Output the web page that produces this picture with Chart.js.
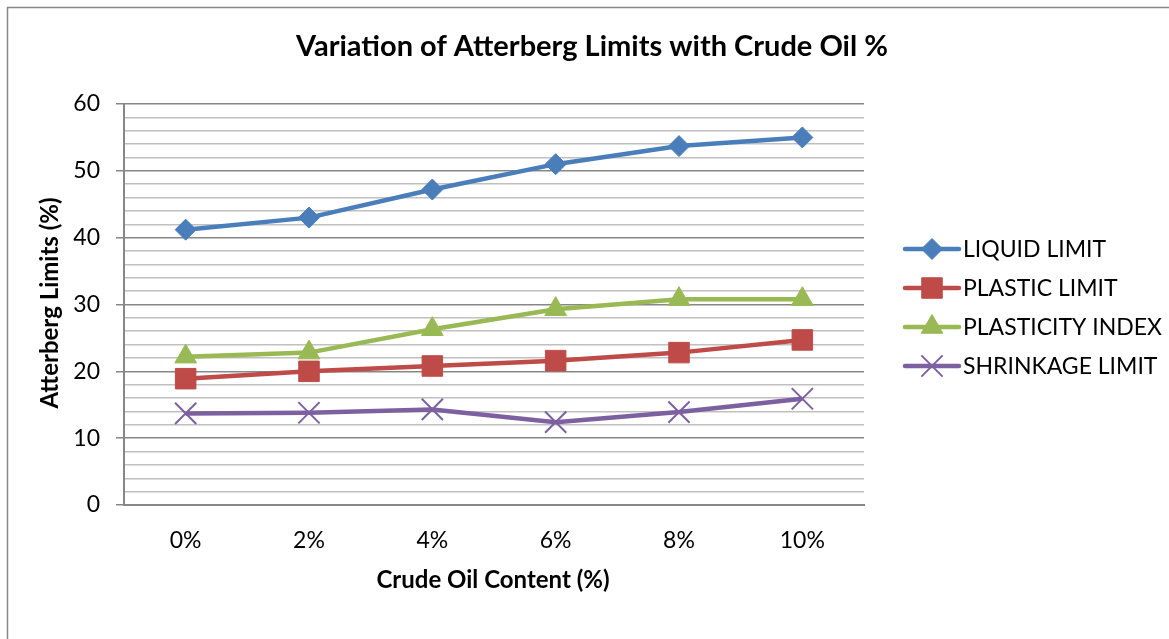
<!DOCTYPE html>
<html>
<head>
<meta charset="utf-8">
<title>Variation of Atterberg Limits with Crude Oil %</title>
<script src="https://cdn.jsdelivr.net/npm/chart.js@4/dist/chart.umd.min.js"></script>
<style>
  html, body { margin: 0; padding: 0; background: #ffffff; }
  #wrap { width: 1169px; height: 639px; position: relative; }
</style>
</head>
<body>
<div id="wrap"><canvas id="chart" width="1169" height="639"></canvas></div>
<script>
// Crude oil content categories
const categories = ['0%', '2%', '4%', '6%', '8%', '10%'];

// Atterberg limits (%) for each crude oil content
const liquidLimit      = [41.2, 43.0, 47.2, 51.0, 53.7, 55.0];
const plasticLimit     = [18.9, 20.0, 20.8, 21.6, 22.8, 24.7];
const plasticityIndex  = [22.2, 22.8, 26.3, 29.3, 30.8, 30.8];
const shrinkageLimit   = [13.7, 13.8, 14.3, 12.4, 13.9, 15.9];

const seriesNames = ['LIQUID LIMIT', 'PLASTIC LIMIT', 'PLASTICITY INDEX', 'SHRINKAGE LIMIT'];

// Y axis: minor lines every 2, labelled lines every 10
const yMin = 0, yMax = 60, yMinorStep = 2, yMajorStep = 10;

const FONT = 'Lato, "Open Sans", "Liberation Sans", sans-serif';

// Frame, titles and the legend on the right
const frameAndText = {
  id: 'frameAndText',
  beforeDraw(chart) {
    const ctx = chart.ctx;
    ctx.save();
    ctx.fillStyle = '#ffffff';
    ctx.fillRect(0, 0, chart.width, chart.height);
    ctx.strokeStyle = '#878787';
    ctx.lineWidth = 1.5;
    ctx.strokeRect(7.5, 7.5, chart.width + 20, chart.height + 20);
    ctx.restore();
  },
  afterDraw(chart) {
    const ctx = chart.ctx;
    ctx.save();
    ctx.fillStyle = '#000000';
    ctx.textAlign = 'center';
    ctx.textBaseline = 'middle';

    ctx.font = 'bold 29px ' + FONT;
    ctx.fillText('Variation of Atterberg Limits with Crude Oil %', 592, 47);

    ctx.font = 'bold 24px ' + FONT;
    ctx.fillText('Crude Oil Content (%)', 493, 580);

    ctx.save();
    ctx.translate(50, 303);
    ctx.rotate(-Math.PI / 2);
    ctx.fillText('Atterberg Limits (%)', 0, 0);
    ctx.restore();

    const legendX = 905, sampleW = 54, textX = 963;
    const rows = [249, 288, 327, 366];
    chart.data.datasets.forEach((ds, i) => {
      const y = rows[i];
      ctx.strokeStyle = ds.borderColor;
      ctx.lineWidth = ds.borderWidth;
      ctx.lineCap = 'round';
      ctx.beginPath();
      ctx.moveTo(legendX, y);
      ctx.lineTo(legendX + sampleW, y);
      ctx.stroke();

      ctx.fillStyle = ds.pointBackgroundColor;
      ctx.strokeStyle = ds.pointBorderColor;
      ctx.lineWidth = ds.pointBorderWidth;
      ctx.lineCap = 'butt';
      Chart.helpers.drawPoint(ctx, {
        pointStyle: ds.pointStyle,
        radius: ds.pointRadius,
        borderWidth: ds.pointBorderWidth
      }, legendX + sampleW / 2, y);

      ctx.fillStyle = '#000000';
      ctx.font = '23px ' + FONT;
      ctx.textAlign = 'left';
      ctx.textBaseline = 'middle';
      ctx.fillText(ds.label, textX, y + 1);
    });
    ctx.restore();
  }
};

function makeSet(label, data, color, style, radius, bw) {
  return {
    label: label,
    data: data,
    borderColor: color,
    backgroundColor: color,
    borderWidth: 4.5,
    pointStyle: style,
    pointRadius: radius,
    pointHoverRadius: radius,
    pointBackgroundColor: color,
    pointBorderColor: color,
    pointBorderWidth: bw,
    tension: 0,
    fill: false
  };
}

const datasets = [
  makeSet(seriesNames[0], liquidLimit, '#4a7ebb', 'rectRot', 10.5, 1),
  makeSet(seriesNames[1], plasticLimit, '#be4b48', 'rect', 14.5, 1),
  makeSet(seriesNames[2], plasticityIndex, '#98b954', 'triangle', 12.5, 1),
  makeSet(seriesNames[3], shrinkageLimit, '#7d60a0', 'crossRot', 15, 2)
];

const isMajor = (v) => Math.abs(v % yMajorStep) < 1e-9;

new Chart(document.getElementById('chart'), {
  type: 'line',
  data: { labels: categories, datasets: datasets },
  options: {
    responsive: false,
    animation: false,
    events: [],
    layout: { padding: { top: 104, right: 305, left: 0, bottom: 0 } },
    plugins: {
      legend: { display: false },
      title: { display: false },
      tooltip: { enabled: false }
    },
    scales: {
      x: {
        offset: true,
        grid: { display: false, drawTicks: false },
        border: { display: true, color: '#878787', width: 2 },
        ticks: {
          color: '#000000',
          font: { family: FONT, size: 23 },
          padding: 22,
          maxRotation: 0
        },
        afterFit(scale) { scale.height = 134; }
      },
      y: {
        min: yMin,
        max: yMax,
        border: { display: true, color: '#878787', width: 2 },
        grid: {
          color: (c) => isMajor(c.tick.value) ? '#878787' : '#c0c0c0',
          lineWidth: 1.5,
          tickColor: (c) => isMajor(c.tick.value) ? '#878787' : 'rgba(0,0,0,0)',
          tickLength: 8,
          drawTicks: true
        },
        ticks: {
          stepSize: yMinorStep,
          autoSkip: false,
          color: '#000000',
          font: { family: FONT, size: 23 },
          padding: 16,
          callback: (v) => isMajor(v) ? String(v) : ''
        },
        afterFit(scale) { scale.width = 124; }
      }
    }
  },
  plugins: [frameAndText]
});
</script>
</body>
</html>
